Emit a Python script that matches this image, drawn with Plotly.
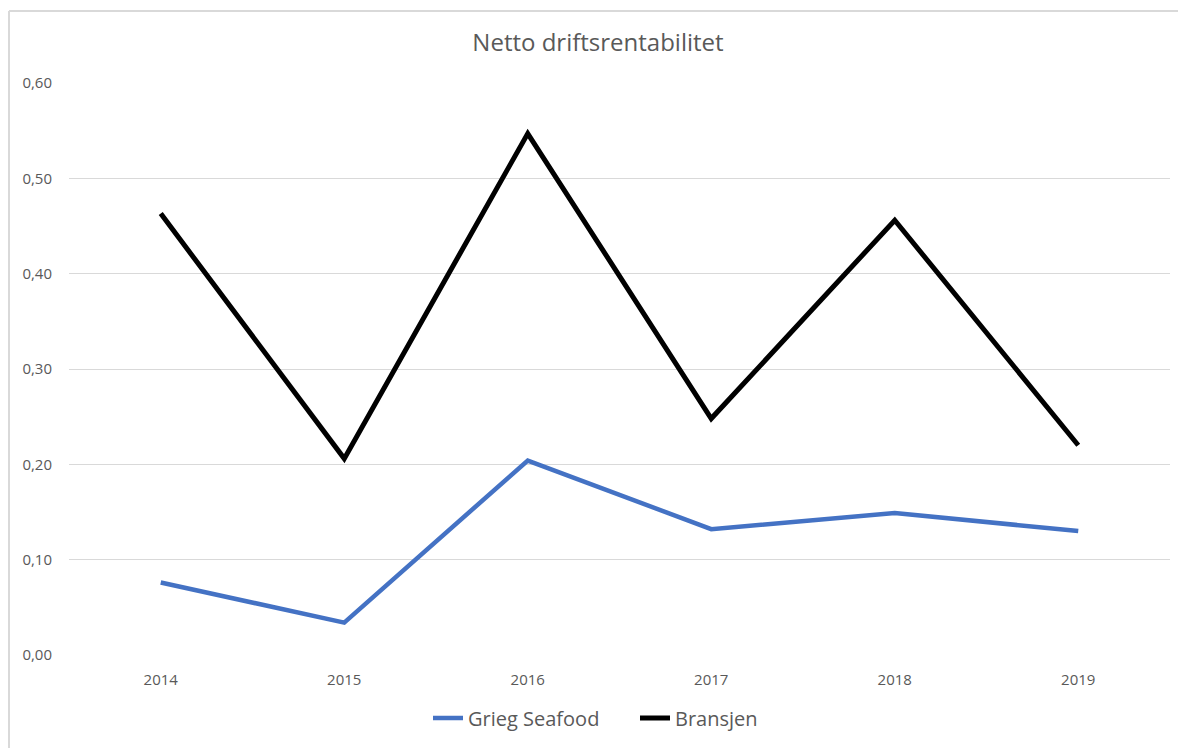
import plotly.graph_objects as go

years = ["2014", "2015", "2016", "2017", "2018", "2019"]
grieg = [0.076, 0.034, 0.204, 0.132, 0.149, 0.130]
bransjen = [0.463, 0.206, 0.547, 0.248, 0.456, 0.220]
y_ticks = [0.0, 0.1, 0.2, 0.3, 0.4, 0.5, 0.6]

W, H = 1178, 748
ml, mr, mt, mb = 69, 8, 83, 93
pw, ph = W - ml - mr, H - mt - mb

def px_x(p):
    return (p - ml) / pw

def px_y(p):
    return (H - mb - p) / ph

fig = go.Figure()
fig.add_trace(go.Scatter(x=years, y=grieg, mode="lines", name="Grieg Seafood",
                         line=dict(color="#4472C4", width=4.5)))
fig.add_trace(go.Scatter(x=years, y=bransjen, mode="lines", name="Bransjen",
                         line=dict(color="#000000", width=5)))

fig.update_layout(
    width=W, height=H,
    margin=dict(l=ml, r=mr, t=mt, b=mb, autoexpand=False),
    paper_bgcolor="white", plot_bgcolor="white",
    separators=", ",
    font=dict(family="Open Sans", color="#595959", size=15),
    title=dict(text="Netto driftsrentabilitet", x=598 / W, xanchor="center",
               y=1 - 43 / H, yanchor="middle",
               font=dict(size=24, color="#595959")),
    xaxis=dict(type="category", range=[-0.5, len(years) - 0.5],
               showgrid=False, zeroline=False, showline=False,
               ticks="outside", ticklen=11, tickcolor="rgba(0,0,0,0)",
               tickfont=dict(size=15, color="#595959")),
    yaxis=dict(range=[0, 0.6], tickvals=y_ticks, tickformat=".2f",
               showgrid=True, gridcolor="#d9d9d9", gridwidth=1,
               zeroline=False, showline=False,
               ticks="outside", ticklen=13, tickcolor="rgba(0,0,0,0)",
               tickfont=dict(size=15, color="#595959")),
    legend=dict(orientation="h", x=px_x(635), xanchor="center",
                y=px_y(718), yanchor="middle",
                font=dict(size=20, color="#595959"), itemwidth=30,
                entrywidth=162, entrywidthmode="pixels"),
    showlegend=True,
)

# outer chart border (partially visible, as in the cropped screenshot)
fig.add_shape(type="line", xref="paper", yref="paper",
              x0=px_x(9), x1=px_x(W), y0=px_y(11), y1=px_y(11),
              line=dict(color="#d9d9d9", width=2))
fig.add_shape(type="line", xref="paper", yref="paper",
              x0=px_x(9), x1=px_x(9), y0=px_y(11), y1=px_y(H),
              line=dict(color="#d9d9d9", width=2))

fig.write_html("out.html", config={"displayModeBar": False})
